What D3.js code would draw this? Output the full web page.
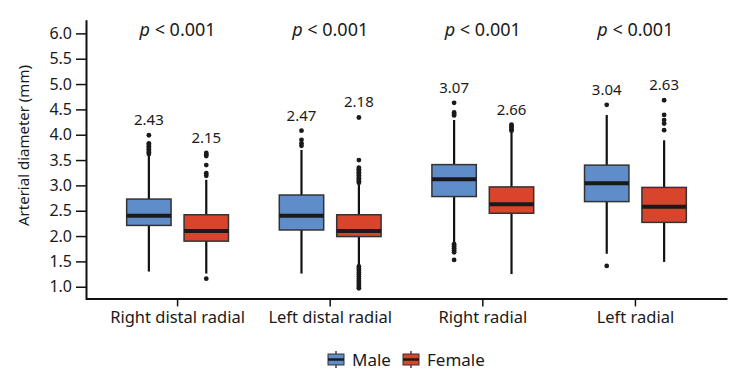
<!DOCTYPE html>
<html lang="en">
<head>
  <meta charset="UTF-8" />
  <title>Arterial diameter by sex</title>
  <script src="https://cdnjs.cloudflare.com/ajax/libs/d3/7.8.5/d3.min.js"></script>
  <style>
    body {
      margin: 0;
      background: #fff;
      font-family: "Noto Sans", sans-serif;
    }
    svg text {
      fill: #1a1a1a;
    }
  </style>
</head>
<body>
  <svg id="chart" width="742" height="380"></svg>

  <script>
    // categories and groups
    const categories = ["Right distal radial", "Left distal radial", "Right radial", "Left radial"];
    const groups = ["Male", "Female"];
    const colors = ["#5f8dc9", "#d8442c"];

    // box stats per category: [whiskerLow, q1, median, q3, whiskerHigh]
    const maleStats = [
      [1.30, 2.21, 2.40, 2.73, 3.58],
      [1.26, 2.12, 2.40, 2.81, 3.70],
      [1.87, 2.78, 3.12, 3.41, 4.29],
      [1.65, 2.68, 3.04, 3.40, 4.39]
    ];
    const femaleStats = [
      [1.26, 1.90, 2.10, 2.42, 3.11],
      [1.43, 1.99, 2.10, 2.42, 3.01],
      [1.25, 2.45, 2.63, 2.97, 4.05],
      [1.49, 2.27, 2.58, 2.96, 3.89]
    ];

    // outliers
    const maleOutliers = [
      [3.62, 3.65, 3.68, 3.71, 3.74, 3.77, 3.80, 3.83, 3.99],
      [3.78, 3.83, 3.90, 4.08],
      [4.38, 4.41, 4.44, 4.63, 1.84, 1.80, 1.76, 1.72, 1.68, 1.53],
      [4.59, 1.41]
    ];
    const femaleOutliers = [
      [3.19, 3.24, 3.40, 3.58, 3.61, 3.64, 1.16],
      [3.05, 3.08, 3.11, 3.14, 3.17, 3.20, 3.23, 3.26, 3.29, 3.32, 3.35, 3.50, 4.34,
       1.40, 1.36, 1.32, 1.28, 1.24, 1.20, 1.16, 1.12, 1.08, 1.04, 1.00, 0.97],
      [4.08, 4.11, 4.14, 4.17, 4.20],
      [4.09, 4.22, 4.29, 4.39, 4.68]
    ];

    // mean labels
    const maleMeans = ["2.43", "2.47", "3.07", "3.04"];
    const femaleMeans = ["2.15", "2.18", "2.66", "2.63"];
    const pLabels = ["< 0.001", "< 0.001", "< 0.001", "< 0.001"];

    const yTicks = [1.0, 1.5, 2.0, 2.5, 3.0, 3.5, 4.0, 4.5, 5.0, 5.5, 6.0];

    const svg = d3.select("#chart");
    const mLeft = 86, mRight = 727, mTop = 19.7, mBottom = 299.4;

    const x = d3.scaleBand().domain(categories).range([mLeft, mRight]).paddingOuter(0.1).paddingInner(0);
    const sub = d3.scalePoint().domain(groups).range([-28.7, 28.7]);
    const y = d3.scaleLinear().domain([0.75, 6.27]).range([mBottom, mTop]);
    const boxW = 44.4;

    const table = categories.map((c, i) => ({
      cat: c,
      p: pLabels[i],
      series: [
        { g: "Male", s: maleStats[i], out: maleOutliers[i], mean: maleMeans[i] },
        { g: "Female", s: femaleStats[i], out: femaleOutliers[i], mean: femaleMeans[i] }
      ]
    }));

    // y axis
    const yAxis = svg.append("g")
      .attr("transform", `translate(${mLeft},0)`)
      .call(d3.axisLeft(y).tickValues(yTicks).tickFormat(d3.format(".1f")).tickSize(10).tickSizeOuter(0).tickPadding(4));
    yAxis.select(".domain").attr("stroke", "#111").attr("stroke-width", 2);
    yAxis.selectAll(".tick line").attr("stroke", "#111").attr("stroke-width", 1.5);
    yAxis.selectAll(".tick text").attr("font-size", 16).attr("font-family", "Noto Sans").attr("fill", "#1a1a1a");

    // x axis
    const xAxis = svg.append("g")
      .attr("transform", `translate(0,${mBottom - 1})`)
      .call(d3.axisBottom(x).tickSize(8).tickSizeOuter(0).tickPadding(5));
    xAxis.select(".domain").attr("stroke", "#111").attr("stroke-width", 2);
    xAxis.selectAll(".tick line").attr("stroke", "#111").attr("stroke-width", 1.5);
    xAxis.selectAll(".tick text").attr("font-size", 16.5).attr("font-family", "Noto Sans").attr("fill", "#1a1a1a");

    // y axis title
    svg.append("text")
      .attr("transform", `translate(29,${(mTop + mBottom) / 2 - 14}) rotate(-90)`)
      .attr("text-anchor", "middle")
      .attr("font-size", 15)
      .text("Arterial diameter (mm)");

    // p values
    const pText = svg.selectAll(".pval").data(table).enter().append("text")
      .attr("class", "pval")
      .attr("x", d => x(d.cat) + x.bandwidth() / 2)
      .attr("y", 36)
      .attr("text-anchor", "middle")
      .attr("font-size", 18);
    pText.append("tspan").attr("font-style", "italic").text("p");
    pText.append("tspan").text(d => " " + d.p);

    // boxes
    const cat = svg.selectAll(".cat").data(table).enter().append("g")
      .attr("class", "cat")
      .attr("transform", d => `translate(${x(d.cat) + x.bandwidth() / 2},0)`);

    const box = cat.selectAll(".box").data(d => d.series).enter().append("g")
      .attr("class", "box")
      .attr("transform", d => `translate(${sub(d.g)},0)`);

    box.append("line")
      .attr("x1", 0).attr("x2", 0)
      .attr("y1", d => y(d.s[0])).attr("y2", d => y(d.s[4]))
      .attr("stroke", "#111").attr("stroke-width", 2.2);

    box.append("rect")
      .attr("x", -boxW / 2).attr("width", boxW)
      .attr("y", d => y(d.s[3]))
      .attr("height", d => y(d.s[1]) - y(d.s[3]))
      .attr("fill", (d, i) => colors[i])
      .attr("stroke", "#333").attr("stroke-width", 1.5);

    box.append("line")
      .attr("x1", -boxW / 2).attr("x2", boxW / 2)
      .attr("y1", d => y(d.s[2])).attr("y2", d => y(d.s[2]))
      .attr("stroke", "#1a1a1a").attr("stroke-width", 4);

    box.selectAll("circle").data(d => d.out).enter().append("circle")
      .attr("cx", 0).attr("cy", d => y(d)).attr("r", 2.4)
      .attr("fill", "#1a1a1a");

    box.append("text")
      .attr("x", 0)
      .attr("y", d => y(d3.max([d.s[4], ...d.out])) - 10)
      .attr("text-anchor", "middle")
      .attr("font-size", 15)
      .text(d => d.mean);

    // legend
    const legend = svg.append("g").attr("transform", "translate(328,353)");
    const item = legend.selectAll(".item").data(groups).enter().append("g")
      .attr("class", "item")
      .attr("transform", (d, i) => `translate(${i * 75},0)`);
    item.append("line").attr("x1", 8).attr("x2", 8).attr("y1", -2).attr("y2", 15)
      .attr("stroke", "#111").attr("stroke-width", 1.2);
    item.append("rect").attr("x", 0).attr("y", 1).attr("width", 16).attr("height", 11)
      .attr("fill", (d, i) => colors[i]).attr("stroke", "#333").attr("stroke-width", 1);
    item.append("line").attr("x1", 0).attr("x2", 16).attr("y1", 6.5).attr("y2", 6.5)
      .attr("stroke", "#1a1a1a").attr("stroke-width", 2.5);
    item.append("text").attr("x", 24).attr("y", 13).attr("font-size", 17).text(d => d);
  </script>
</body>
</html>
